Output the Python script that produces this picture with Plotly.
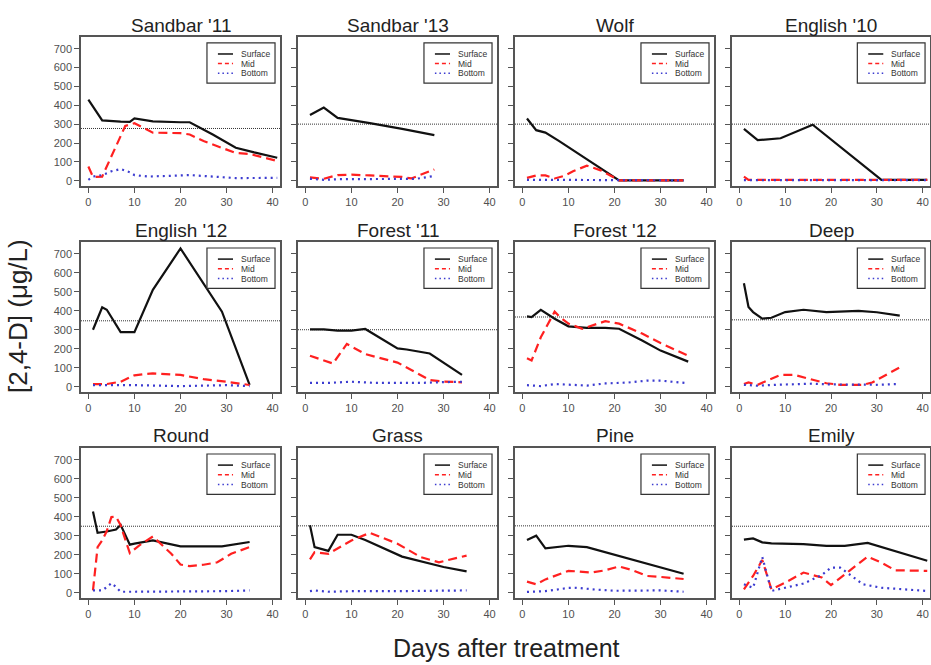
import plotly.graph_objects as go

# ---------------- data ----------------
panel_titles = ["Sandbar '11", "Sandbar '13", "Wolf", "English '10",
                "English '12", "Forest '11", "Forest '12", "Deep",
                "Round", "Grass", "Pine", "Emily"]
series_names = ["Surface", "Mid", "Bottom"]
x_ticks = [0, 10, 20, 30, 40]
y_ticks = [0, 100, 200, 300, 400, 500, 600, 700]

# reference (dotted horizontal) level per panel
ref_levels = [277, 300, 300, 300, 347, 300, 367, 352, 350, 352, 352, 350]

sandbar11_surface = ([0, 3, 7, 9, 10, 14, 20, 22, 27, 32, 36, 41],
                     [430, 320, 313, 312, 330, 315, 310, 310, 245, 175, 150, 122])
sandbar11_mid = ([0, 1, 3, 8, 10, 14, 20, 22, 25, 30, 32, 35, 39, 41],
                 [75, 20, 22, 290, 305, 255, 252, 245, 210, 165, 147, 142, 118, 105])
sandbar11_bottom = ([0, 1, 3, 5, 7, 9, 10, 13, 20, 22, 27, 32, 41],
                    [5, 22, 30, 50, 62, 45, 30, 22, 28, 30, 22, 14, 15])

sandbar13_surface = ([1, 4, 7, 10, 14, 21, 28], [348, 388, 333, 322, 305, 275, 242])
sandbar13_mid = ([1, 4, 7, 10, 14, 17, 21, 23, 26, 28],
                 [18, 10, 30, 32, 28, 24, 20, 12, 40, 60])
sandbar13_bottom = ([1, 4, 7, 10, 14, 17, 21, 24, 28],
                    [10, 5, 8, 8, 12, 10, 8, 10, 25])

wolf_surface = ([1, 3, 5, 8, 21, 35], [330, 268, 255, 210, 2, 2])
wolf_mid = ([1, 3, 5, 7, 9, 11, 14, 17, 21, 35],
            [15, 28, 28, 12, 25, 50, 80, 55, 2, 2])
wolf_bottom = ([1, 5, 10, 15, 21, 35], [5, 5, 5, 5, 2, 2])

english10_surface = ([1, 4, 9, 16, 31, 41], [275, 215, 225, 297, 5, 5])
english10_mid = ([1, 2, 16, 31, 41], [22, 5, 5, 5, 5])
english10_bottom = ([1, 16, 31, 41], [3, 3, 3, 3])

english12_surface = ([1, 3, 4, 7, 10, 14, 20, 29, 35],
                     [300, 418, 405, 287, 287, 510, 728, 395, 10])
english12_mid = ([1, 4, 7, 10, 12, 14, 20, 22, 25, 30, 33, 35],
                 [14, 14, 26, 60, 66, 70, 62, 53, 40, 26, 18, 9])
english12_bottom = ([1, 10, 20, 30, 35], [8, 8, 3, 8, 3])

forest11_surface = ([1, 4, 7, 10, 13, 20, 22, 27, 34],
                    [302, 302, 295, 295, 304, 202, 196, 175, 62])
forest11_mid = ([1, 6, 9, 13, 16, 20, 23, 27, 30, 34],
                [163, 122, 225, 172, 152, 127, 88, 35, 27, 23])
forest11_bottom = ([1, 5, 10, 15, 20, 25, 30, 34], [20, 20, 26, 20, 20, 20, 24, 26])

forest12_surface = ([1, 2, 4, 7, 10, 14, 18, 21, 26, 30, 36],
                    [370, 367, 405, 358, 318, 310, 310, 305, 243, 190, 132])
forest12_mid = ([1, 2, 4, 7, 8, 10, 13, 18, 21, 26, 30, 36],
                [150, 138, 260, 395, 370, 332, 305, 345, 332, 280, 230, 163])
forest12_bottom = ([1, 4, 7, 10, 14, 18, 23, 27, 30, 36],
                   [8, 3, 14, 9, 6, 17, 22, 32, 32, 18])

deep_surface = ([1, 2, 3, 5, 7, 10, 14, 19, 26, 30, 35],
                [545, 420, 393, 358, 363, 393, 405, 393, 399, 392, 374])
deep_mid = ([1, 2, 4, 7, 9, 12, 14, 16, 19, 22, 27, 29, 35],
            [14, 22, 10, 40, 62, 62, 50, 35, 18, 10, 10, 22, 102])
deep_bottom = ([1, 4, 8, 12, 16, 20, 25, 30, 35], [10, 5, 10, 12, 16, 12, 10, 10, 14])

round_surface = ([1, 2, 4, 6, 7, 9, 10, 14, 20, 24, 29, 35],
                 [428, 315, 322, 333, 357, 253, 258, 275, 244, 244, 244, 267])
round_mid = ([1, 2, 3, 4, 5, 6, 7, 9, 11, 14, 18, 20, 22, 25, 28, 31, 35],
             [12, 240, 275, 325, 398, 400, 355, 208, 248, 296, 205, 148, 140, 147, 160, 205, 240])
round_bottom = ([1, 3, 4, 5, 6, 7, 10, 20, 30, 35], [12, 12, 30, 50, 30, 5, 5, 5, 8, 12])

grass_surface = ([1, 2, 5, 7, 10, 13, 21, 30, 35],
                 [355, 240, 220, 305, 305, 278, 190, 135, 112])
grass_mid = ([1, 2, 5, 10, 14, 20, 25, 29, 31, 35],
             [175, 213, 205, 275, 315, 258, 188, 160, 172, 195])
grass_bottom = ([1, 2, 5, 10, 20, 30, 35], [8, 12, 5, 8, 8, 8, 12])

pine_surface = ([1, 3, 5, 7, 10, 14, 35], [278, 300, 233, 238, 247, 240, 100])
pine_mid = ([1, 3, 5, 10, 12, 15, 18, 21, 24, 27, 30, 35],
            [58, 44, 70, 115, 112, 106, 118, 138, 118, 88, 83, 72])
pine_bottom = ([1, 5, 10, 12, 15, 20, 30, 35], [4, 8, 25, 26, 18, 10, 12, 5])

emily_surface = ([1, 3, 5, 7, 14, 19, 23, 28, 41],
                 [279, 286, 265, 260, 256, 247, 247, 262, 168])
emily_mid = ([1, 3, 5, 7, 10, 14, 18, 20, 24, 28, 31, 34, 41],
             [18, 88, 172, 18, 53, 106, 80, 40, 115, 190, 158, 118, 115])
emily_bottom = ([1, 3, 5, 7, 10, 14, 18, 20, 22, 24, 27, 31, 35, 41],
                [44, 26, 188, 9, 26, 48, 93, 132, 132, 97, 44, 26, 18, 9])

panel_series = [
    (sandbar11_surface, sandbar11_mid, sandbar11_bottom),
    (sandbar13_surface, sandbar13_mid, sandbar13_bottom),
    (wolf_surface, wolf_mid, wolf_bottom),
    (english10_surface, english10_mid, english10_bottom),
    (english12_surface, english12_mid, english12_bottom),
    (forest11_surface, forest11_mid, forest11_bottom),
    (forest12_surface, forest12_mid, forest12_bottom),
    (deep_surface, deep_mid, deep_bottom),
    (round_surface, round_mid, round_bottom),
    (grass_surface, grass_mid, grass_bottom),
    (pine_surface, pine_mid, pine_bottom),
    (emily_surface, emily_mid, emily_bottom),
]

# ---------------- styling / layout ----------------
W, H = 931, 665
FONT = "Liberation Sans, Arial, sans-serif"
col_px = [(81, 280), (298, 497), (515, 714), (732, 930)]
row_px = [(37, 186), (242, 392), (448, 598)]
title_y_px = [25, 230, 435]
styles = [dict(color="#111111", width=2.2, dash="solid"),
          dict(color="#ff2020", width=2.2, dash="9px,5px"),
          dict(color="#3b3bd0", width=2.2, dash="2px,4px")]
legend_line_styles = [dict(color="#111111", width=1.5, dash="solid"),
                      dict(color="#ff2020", width=1.5, dash="4px,3px"),
                      dict(color="#3b3bd0", width=1.5, dash="1.5px,3px")]
X_RANGE = [-1.6, 41.6]
Y_RANGE = [-28, 762]
BOX = "#555555"

# legend placement inside each panel (fractions of the panel box)
LEG_BOX = (0.633, 0.975, 0.691, 0.960)
LEG_LINE_X = (0.688, 0.764)
LEG_TEXT_X = 0.794
LEG_ROW_Y = [0.886, 0.822, 0.756]

fig = go.Figure()
layout = dict(width=W, height=H, margin=dict(l=0, r=0, t=0, b=0),
              plot_bgcolor="white", paper_bgcolor="white", showlegend=False,
              font=dict(family=FONT, color="#333333"))
annotations = []
shapes = []

for i, title in enumerate(panel_titles):
    r, c = divmod(i, 4)
    k = i + 1
    xa = "x" if k == 1 else f"x{k}"
    ya = "y" if k == 1 else f"y{k}"
    x0p, x1p = col_px[c]
    y0p, y1p = row_px[r]
    layout[f"xaxis{'' if k == 1 else k}"] = dict(
        domain=[x0p / W, x1p / W], range=X_RANGE, anchor=ya,
        tickvals=x_ticks, ticks="outside", ticklen=5, tickcolor=BOX, tickwidth=1,
        showline=True, linecolor=BOX, linewidth=1.5, mirror=True,
        showgrid=False, zeroline=False,
        tickfont=dict(size=11, color="#505050", family=FONT))
    layout[f"yaxis{'' if k == 1 else k}"] = dict(
        domain=[1 - y1p / H, 1 - y0p / H], range=Y_RANGE, anchor=xa,
        tickvals=y_ticks, ticks="outside", ticklen=5, tickcolor=BOX, tickwidth=1,
        showticklabels=(c == 0),
        showline=True, linecolor=BOX, linewidth=1.5, mirror=True,
        showgrid=False, zeroline=False,
        tickfont=dict(size=11, color="#505050", family=FONT))
    for s, (name, st) in enumerate(zip(series_names, styles)):
        xs, ys = panel_series[i][s]
        fig.add_trace(go.Scatter(x=xs, y=ys, mode="lines", name=name,
                                 line=st, xaxis=xa, yaxis=ya,
                                 showlegend=False, hoverinfo="skip"))
    # dotted reference level
    shapes.append(dict(type="line", xref=f"{xa} domain", x0=0, x1=1,
                       yref=ya, y0=ref_levels[i], y1=ref_levels[i],
                       line=dict(color="#333333", width=1, dash="1px,1px"),
                       layer="below"))
    # legend (box, keys, labels) positioned inside the panel
    shapes.append(dict(type="rect", xref=f"{xa} domain", yref=f"{ya} domain",
                       x0=LEG_BOX[0], x1=LEG_BOX[1], y0=LEG_BOX[2], y1=LEG_BOX[3],
                       line=dict(color="#333333", width=1.2), fillcolor="white",
                       layer="above"))
    for s, name in enumerate(series_names):
        shapes.append(dict(type="line", xref=f"{xa} domain", yref=f"{ya} domain",
                           x0=LEG_LINE_X[0], x1=LEG_LINE_X[1],
                           y0=LEG_ROW_Y[s], y1=LEG_ROW_Y[s],
                           line=legend_line_styles[s], layer="above"))
        annotations.append(dict(text=name, xref=f"{xa} domain", yref=f"{ya} domain",
                                x=LEG_TEXT_X, y=LEG_ROW_Y[s], showarrow=False,
                                xanchor="left", yanchor="middle",
                                font=dict(size=8.5, color="#333333", family=FONT)))
    annotations.append(dict(text=title, x=(x0p + x1p) / 2 / W, y=1 - title_y_px[r] / H,
                            xref="paper", yref="paper", showarrow=False,
                            xanchor="center", yanchor="middle",
                            font=dict(size=19, color="#222222", family=FONT)))

annotations.append(dict(text="[2,4-D] (\u03bcg/L)", x=18 / W, y=1 - 316 / H,
                        xref="paper", yref="paper", showarrow=False, textangle=-90,
                        xanchor="center", yanchor="middle",
                        font=dict(size=26, color="#222222", family=FONT)))
annotations.append(dict(text="Days after treatment", x=506 / W, y=1 - 648 / H,
                        xref="paper", yref="paper", showarrow=False,
                        xanchor="center", yanchor="middle",
                        font=dict(size=25, color="#222222", family=FONT)))

layout["annotations"] = annotations
layout["shapes"] = shapes
fig.update_layout(**layout)
fig.write_html("out.html", config={"displayModeBar": False},
               post_script="document.body.style.margin='0px';"
                           "document.body.style.overflow='hidden';")
